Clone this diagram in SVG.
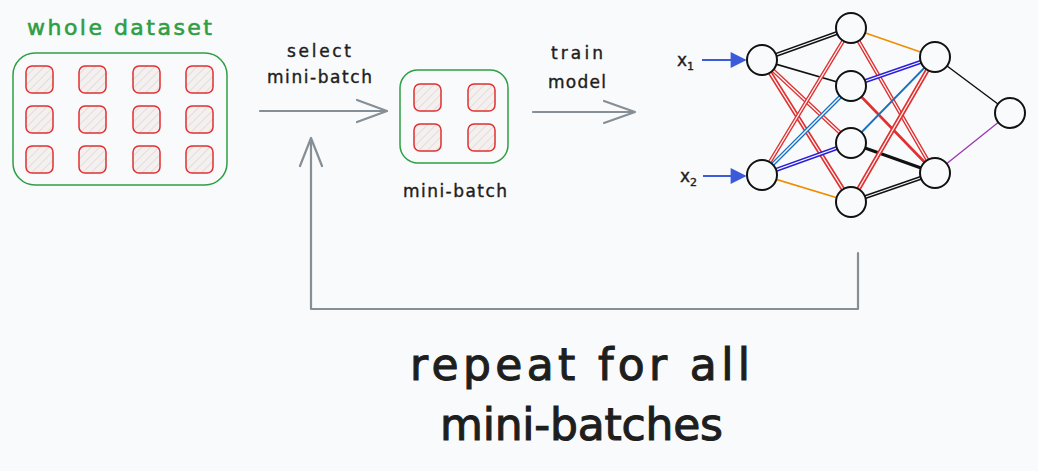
<svg xmlns="http://www.w3.org/2000/svg" width="1038" height="471" viewBox="0 0 1038 471">
<defs>
<pattern id="hatch" width="6" height="6" patternUnits="userSpaceOnUse" patternTransform="rotate(45)">
<rect width="6" height="6" fill="#f3f0ef"/>
<line x1="0" y1="0" x2="0" y2="6" stroke="#d5d0ce" stroke-width="1.2"/>
</pattern>
<marker id="tri" viewBox="0 0 10 10" refX="9" refY="5" markerWidth="8.5" markerHeight="8" orient="auto" markerUnits="strokeWidth">
<path d="M0,0 L10,5 L0,10 Z" fill="#3b5bdb"/>
</marker>
</defs>
<style>
.cell{fill:url(#hatch);stroke:#e03131;stroke-width:1.5}
.box{fill:none;stroke:#2f9e44;stroke-width:1.5}
.arr{fill:none;stroke:#868e96;stroke-width:2.2;stroke-linecap:round;stroke-linejoin:round}
.lbl{font-family:"DejaVu Sans","Liberation Sans",sans-serif;fill:#1e1e1e;stroke:#1e1e1e;stroke-width:0.4}
.big{stroke-width:1.1}
.node{fill:#f9fafb;stroke:#111;stroke-width:2}
.e{fill:none;stroke-linecap:round}
.d{fill:none;stroke:#f9fafb;stroke-width:1.3}
</style>
<rect width="1038" height="471" fill="#f9fafb"/>

<g id="whole-dataset">
<text class="lbl" x="27" y="35" font-size="22" style="fill:#2f9e44;stroke:#2f9e44;stroke-width:0.6" textLength="185" lengthAdjust="spacing">whole dataset</text>
<rect class="box" x="13" y="53" width="214" height="132" rx="22"/>
<rect class="cell" x="26" y="66" width="27" height="27" rx="6"/>
<rect class="cell" x="79" y="66" width="27" height="27" rx="6"/>
<rect class="cell" x="133" y="66" width="27" height="27" rx="6"/>
<rect class="cell" x="186" y="66" width="27" height="27" rx="6"/>
<rect class="cell" x="26" y="106" width="27" height="27" rx="6"/>
<rect class="cell" x="79" y="106" width="27" height="27" rx="6"/>
<rect class="cell" x="133" y="106" width="27" height="27" rx="6"/>
<rect class="cell" x="186" y="106" width="27" height="27" rx="6"/>
<rect class="cell" x="26" y="146" width="27" height="27" rx="6"/>
<rect class="cell" x="79" y="146" width="27" height="27" rx="6"/>
<rect class="cell" x="133" y="146" width="27" height="27" rx="6"/>
<rect class="cell" x="186" y="146" width="27" height="27" rx="6"/>
</g>

<g id="mini-batch">
<rect class="box" x="400" y="70" width="108" height="93" rx="18"/>
<rect class="cell" x="414" y="84" width="27" height="27" rx="6"/>
<rect class="cell" x="468" y="84" width="27" height="27" rx="6"/>
<rect class="cell" x="414" y="124" width="27" height="27" rx="6"/>
<rect class="cell" x="468" y="124" width="27" height="27" rx="6"/>
<text class="lbl" x="403" y="197" font-size="17" textLength="104" lengthAdjust="spacing">mini-batch</text>
</g>

<g id="connectors">
<path class="arr" d="M260,111 L387,111 M357,100 L387,111 L357,122"/>
<text class="lbl" x="287" y="57" font-size="17" textLength="64" lengthAdjust="spacing">select</text>
<text class="lbl" x="267" y="83" font-size="17" textLength="105" lengthAdjust="spacing">mini-batch</text>
<path class="arr" d="M533,112 L635,112 M604,101 L635,112 L604,123"/>
<text class="lbl" x="551" y="59" font-size="17" textLength="52" lengthAdjust="spacing">train</text>
<text class="lbl" x="548" y="88" font-size="17" textLength="58" lengthAdjust="spacing">model</text>
<path class="arr" d="M858,253 L858,309 L311,309 L311,138 M300,166 L311,138 L322,166"/>
<text class="lbl big" x="410" y="380" font-size="44" textLength="340" lengthAdjust="spacing">repeat for all</text>
<text class="lbl big" x="440" y="440" font-size="44" textLength="283" lengthAdjust="spacing">mini-batches</text>
</g>

<g id="network-edges">
<line class="e" x1="762" y1="60" x2="851" y2="28" stroke="#111" stroke-width="4"/>
<line class="d" x1="762" y1="60" x2="851" y2="28"/>
<line class="e" x1="762" y1="60" x2="851" y2="86" stroke="#111" stroke-width="1.8"/>
<line class="e" x1="762" y1="60" x2="851" y2="143" stroke="#e03131" stroke-width="4"/>
<line class="d" x1="762" y1="60" x2="851" y2="143"/>
<line class="e" x1="762" y1="60" x2="851" y2="202" stroke="#e03131" stroke-width="4.5"/>
<line class="d" x1="762" y1="60" x2="851" y2="202"/>
<line class="e" x1="762" y1="175" x2="851" y2="28" stroke="#e03131" stroke-width="4"/>
<line class="d" x1="762" y1="175" x2="851" y2="28"/>
<line class="e" x1="762" y1="175" x2="851" y2="86" stroke="#1971c2" stroke-width="4"/>
<line class="d" x1="762" y1="175" x2="851" y2="86"/>
<line class="e" x1="762" y1="175" x2="851" y2="143" stroke="#2b1fd6" stroke-width="4"/>
<line class="d" x1="762" y1="175" x2="851" y2="143"/>
<line class="e" x1="762" y1="175" x2="851" y2="202" stroke="#f08c00" stroke-width="1.8"/>
<line class="e" x1="851" y1="28" x2="935" y2="57" stroke="#f08c00" stroke-width="1.6"/>
<line class="e" x1="851" y1="28" x2="935" y2="173" stroke="#e03131" stroke-width="4"/>
<line class="d" x1="851" y1="28" x2="935" y2="173"/>
<line class="e" x1="851" y1="86" x2="935" y2="57" stroke="#2b1fd6" stroke-width="4"/>
<line class="d" x1="851" y1="86" x2="935" y2="57"/>
<line class="e" x1="851" y1="86" x2="935" y2="173" stroke="#e03131" stroke-width="2.6"/>
<line class="e" x1="851" y1="143" x2="935" y2="57" stroke="#1971c2" stroke-width="1.8"/>
<line class="e" x1="851" y1="143" x2="935" y2="173" stroke="#111" stroke-width="3"/>
<line class="e" x1="851" y1="202" x2="935" y2="57" stroke="#e03131" stroke-width="4.5"/>
<line class="d" x1="851" y1="202" x2="935" y2="57"/>
<line class="e" x1="851" y1="202" x2="935" y2="173" stroke="#111" stroke-width="4"/>
<line class="d" x1="851" y1="202" x2="935" y2="173"/>
<line class="e" x1="935" y1="57" x2="1010" y2="113" stroke="#111" stroke-width="1.5"/>
<line class="e" x1="935" y1="173" x2="1010" y2="113" stroke="#9c36b5" stroke-width="1.3"/>
<line x1="702" y1="60" x2="745" y2="60" stroke="#3b5bdb" stroke-width="2" marker-end="url(#tri)"/>
<line x1="703" y1="176" x2="745" y2="176" stroke="#3b5bdb" stroke-width="2" marker-end="url(#tri)"/>
</g>

<g id="input-labels">
<text class="lbl" x="677" y="66" font-size="17">x<tspan font-size="11" dy="4">1</tspan></text>
<text class="lbl" x="680" y="182" font-size="17">x<tspan font-size="11" dy="4">2</tspan></text>
</g>

<g id="node-in1"><circle class="node" cx="762" cy="60" r="15"/></g>
<g id="node-in2"><circle class="node" cx="762" cy="175" r="15"/></g>
<g id="node-h1"><circle class="node" cx="851" cy="28" r="15"/></g>
<g id="node-h2"><circle class="node" cx="851" cy="86" r="15"/></g>
<g id="node-h3"><circle class="node" cx="851" cy="143" r="15"/></g>
<g id="node-h4"><circle class="node" cx="851" cy="202" r="15"/></g>
<g id="node-o1"><circle class="node" cx="935" cy="57" r="15"/></g>
<g id="node-o2"><circle class="node" cx="935" cy="173" r="15"/></g>
<g id="node-out"><circle class="node" cx="1010" cy="113" r="15"/></g>
</svg>
